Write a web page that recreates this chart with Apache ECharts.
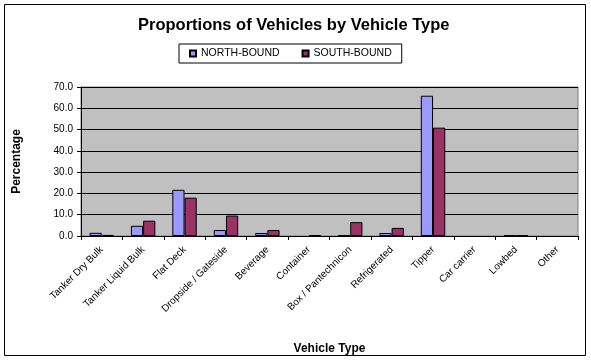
<!DOCTYPE html>
<html><head><meta charset="utf-8">
<script src="https://cdn.jsdelivr.net/npm/echarts@6/dist/echarts.min.js"></script>
<style>html,body{margin:0;padding:0;background:#fff}#c{width:591px;height:361px}</style>
</head><body><div id="c"></div>
<script>
const categories = ["Tanker Dry Bulk","Tanker Liquid Bulk","Flat Deck","Dropside / Gateside","Beverage","Container","Box / Pantechnicon","Refrigerated","Tipper","Car carrier","Lowbed","Other"];
const northBound = [1.5, 4.8, 21.7, 2.8, 1.4, 0.0, 0.3, 1.4, 65.9, 0.0, 0.3, 0.0];
const southBound = [0.5, 7.2, 18.0, 9.6, 2.8, 0.4, 6.5, 3.8, 50.9, 0.0, 0.3, 0.0];
const seriesNames = ["NORTH-BOUND","SOUTH-BOUND"];
const yTicks = [0,10,20,30,40,50,60,70];
const chart = echarts.init(document.getElementById('c'), null, {renderer:'canvas'});
const F = 'Arial, "Liberation Sans", sans-serif';
const toData = arr => arr.map(v => v === 0 ? {value:v, itemStyle:{borderWidth:0}} : v);
chart.setOption({
  animation:false,
  backgroundColor:'#fff',
  title:{text:'Proportions of Vehicles by Vehicle Type',left:133,top:12,
    textStyle:{fontFamily:F,fontSize:16.5,fontWeight:'bold',color:'#000'}},
  legend:{top:44,left:179,itemWidth:6,itemHeight:6,itemGap:22,
    borderColor:'#000',borderWidth:1,padding:[4,10,4,10],backgroundColor:'#fff',
    icon:'rect',
    textStyle:{fontFamily:F,fontSize:10.5,color:'#000'},
    data:seriesNames},
  graphic:[{type:'rect',shape:{x:4.5,y:4.5,width:581,height:351},style:{fill:null,stroke:'#000',lineWidth:1},z:-1}],
  grid:{left:81,right:13,top:87,bottom:125,show:true,backgroundColor:'#C0C0C0',borderColor:'#808080',borderWidth:1},
  xAxis:{type:'category',data:categories,
    name:'Vehicle Type',nameLocation:'middle',nameGap:107,
    nameTextStyle:{fontFamily:F,fontSize:12,fontWeight:'bold',color:'#000'},
    axisLine:{lineStyle:{color:'#000'}},
    axisTick:{show:true,length:4,lineStyle:{color:'#000'}},
    axisLabel:{rotate:45,interval:0,fontFamily:F,fontSize:10,color:'#000',margin:12}},
  yAxis:{type:'value',min:yTicks[0],max:yTicks[yTicks.length-1],interval:10,
    name:'Percentage',nameLocation:'middle',nameGap:58,nameRotate:90,
    nameTextStyle:{fontFamily:F,fontSize:12,fontWeight:'bold',color:'#000'},
    axisLine:{show:true,lineStyle:{color:'#000'}},
    axisTick:{show:true,length:4,lineStyle:{color:'#000'}},
    splitLine:{lineStyle:{color:'#000'}},
    axisLabel:{fontFamily:F,fontSize:10,color:'#000',formatter:v=>v.toFixed(1)}},
  series:[
    {name:seriesNames[0],type:'bar',data:toData(northBound),barGap:'0%',barCategoryGap:'41%',
     itemStyle:{color:'#9999FF',borderColor:'#000',borderWidth:1}},
    {name:seriesNames[1],type:'bar',data:toData(southBound),
     itemStyle:{color:'#993366',borderColor:'#000',borderWidth:1}}
  ]
});
</script></body></html>
